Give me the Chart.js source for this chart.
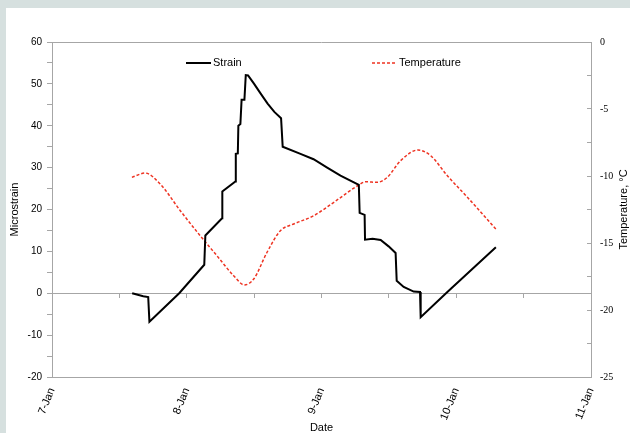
<!DOCTYPE html>
<html>
<head>
<meta charset="utf-8">
<script src="https://cdn.jsdelivr.net/npm/chart.js@4"></script>
<style>
  body { margin: 0; background: #d6e0df; width: 630px; height: 433px; overflow: hidden; }
  #wrap { position: absolute; left: 6px; top: 8px; width: 624px; height: 425px; background: #fff; }
</style>
</head>
<body>
<div id="wrap"><canvas id="chart" width="624" height="425"></canvas></div>
<script>
// strain gauge readings (day of January, microstrain)
const strainDays = [7.595, 7.677, 7.714, 7.723, 7.944, 8.130, 8.138, 8.262, 8.264, 8.361, 8.364, 8.379, 8.383,
    8.398, 8.407, 8.428, 8.438, 8.455, 8.500, 8.550, 8.600, 8.650, 8.700, 8.712, 8.844, 8.941, 9.042, 9.141,
    9.277, 9.283, 9.320, 9.323, 9.379, 9.439, 9.498, 9.550, 9.558, 9.610, 9.684, 9.731, 9.736, 9.934, 10.294];
const strainValues = [0, -0.7, -0.9, -6.8, 0, 6.8, 13.8, 17.9, 24.3, 26.7, 33.3, 33.4, 40.0,
    40.4, 46.2, 46.2, 52.1, 52.0, 50.0, 47.6, 45.3, 43.3, 41.8, 35.0, 33.3, 32.0, 30.0, 28.1,
    25.9, 19.2, 18.7, 12.8, 13.0, 12.7, 11.2, 9.6, 3.0, 1.5, 0.4, 0.3, -5.7, 0.3, 11.0];

// air temperature (day of January, deg C)
const tempDays = [7.593, 7.691, 7.803, 7.952, 8.100, 8.224, 8.348, 8.428, 8.497, 8.596, 8.695, 8.794,
    8.943, 9.092, 9.277, 9.327, 9.414, 9.488, 9.587, 9.716, 9.810, 9.934, 10.083, 10.294];
const tempValues = [-10.1, -9.78, -10.6, -12.59, -14.46, -15.95, -17.44, -18.13, -17.69, -15.69, -14.08, -13.58,
    -12.96, -11.96, -10.67, -10.43, -10.47, -10.10, -8.86, -8.06, -8.48, -9.98, -11.59, -13.96];

const dayTicks = [7, 8, 9, 10, 11];
const monthLabel = "Jan";

const axisGray = "#a6a6a6";
const sans = "'Liberation Sans', Arial, sans-serif";
const serif = "'Liberation Serif', 'Times New Roman', serif";

const toPoints = (xs, ys) => xs.map((x, i) => ({ x, y: ys[i] }));

// frame, axis titles and the in-plot legend
const decorations = {
    id: "decorations",
    beforeDatasetsDraw(chart) {
        const { ctx, chartArea: a } = chart;
        ctx.save();
        ctx.strokeStyle = axisGray;
        ctx.lineWidth = 1;
        ctx.beginPath();
        ctx.moveTo(Math.round(a.left), Math.round(a.top) + 0.5);
        ctx.lineTo(Math.round(a.right), Math.round(a.top) + 0.5);
        ctx.stroke();
        ctx.restore();
    },
    afterDraw(chart) {
        const { ctx, chartArea: a } = chart;
        const midY = (a.top + a.bottom) / 2;
        ctx.save();
        ctx.fillStyle = "#000";
        ctx.font = "11px " + sans;
        ctx.textAlign = "center";
        ctx.textBaseline = "middle";

        ctx.save();
        ctx.translate(9, midY);
        ctx.rotate(-Math.PI / 2);
        ctx.fillText("Microstrain", 0, 0);
        ctx.restore();

        ctx.save();
        ctx.translate(618, midY);
        ctx.rotate(-Math.PI / 2);
        ctx.fillText("Temperature, °C", 0, 0);
        ctx.restore();

        ctx.fillText("Date", (a.left + a.right) / 2, 420);

        // legend
        const ly = a.top + 21;
        const items = [
            { x: a.left + 134, ds: chart.data.datasets[0] },
            { x: a.left + 320, ds: chart.data.datasets[1] }
        ];
        items.forEach(it => {
            ctx.beginPath();
            ctx.strokeStyle = it.ds.borderColor;
            ctx.lineWidth = it.ds.borderWidth;
            ctx.setLineDash(it.ds.borderDash || []);
            ctx.moveTo(it.x, ly);
            ctx.lineTo(it.x + 25, ly);
            ctx.stroke();
            ctx.setLineDash([]);
            ctx.textAlign = "left";
            ctx.fillText(it.ds.label, it.x + 27, ly);
        });
        ctx.restore();
    }
};

new Chart(document.getElementById("chart").getContext("2d"), {
    type: "line",
    data: {
        datasets: [
            {
                label: "Strain",
                data: toPoints(strainDays, strainValues),
                borderColor: "#000000",
                borderWidth: 2,
                pointRadius: 0,
                tension: 0,
                yAxisID: "y"
            },
            {
                label: "Temperature",
                data: toPoints(tempDays, tempValues),
                borderColor: "#ee3322",
                borderWidth: 1.5,
                borderDash: [3, 2],
                pointRadius: 0,
                cubicInterpolationMode: "monotone",
                yAxisID: "y2"
            }
        ]
    },
    options: {
        responsive: false,
        animation: false,
        devicePixelRatio: 1,
        layout: { padding: { top: 34, left: 0, right: 0, bottom: 0 } },
        plugins: { legend: { display: false }, tooltip: { enabled: false } },
        scales: {
            x: {
                type: "linear",
                position: "bottom",
                min: dayTicks[0],
                max: dayTicks[dayTicks.length - 1],
                afterBuildTicks: s => { s.ticks = dayTicks.map(v => ({ value: v })); },
                afterFit: s => { s.height = 56; },
                grid: { display: false },
                border: { display: true, color: axisGray },
                ticks: {
                    callback: v => v + "-" + monthLabel,
                    minRotation: 68,
                    maxRotation: 68,
                    autoSkip: false,
                    padding: 1,
                    color: "#000",
                    font: { family: sans, size: 11 }
                }
            },
            // axis line along zero strain with half-day tick marks
            xZero: {
                type: "linear",
                position: { y: 0 },
                min: dayTicks[0],
                max: dayTicks[dayTicks.length - 1],
                afterFit: s => { s.height = 0; },
                ticks: { display: false, stepSize: 0.5 },
                grid: { drawOnChartArea: false, drawTicks: true, tickLength: 4, color: axisGray },
                border: { display: true, color: axisGray }
            },
            y: {
                position: "left",
                min: -20,
                max: 60,
                afterFit: s => { s.width = 46; },
                grid: { drawOnChartArea: false, tickLength: 5, color: axisGray },
                border: { display: true, color: axisGray },
                ticks: {
                    stepSize: 5,
                    padding: 5,
                    callback: v => (v % 10 === 0 ? String(v) : ""),
                    color: "#000",
                    font: { family: sans, size: 10 }
                }
            },
            y2: {
                position: "right",
                min: -25,
                max: 0,
                afterFit: s => { s.width = 39; },
                grid: { drawOnChartArea: false, tickLength: -4, color: axisGray },
                border: { display: true, color: axisGray },
                ticks: {
                    stepSize: 2.5,
                    padding: 13,
                    callback: v => (v % 5 === 0 ? String(v) : ""),
                    color: "#000",
                    font: { family: serif, size: 10 }
                }
            }
        }
    },
    plugins: [decorations]
});
</script>
</body>
</html>
